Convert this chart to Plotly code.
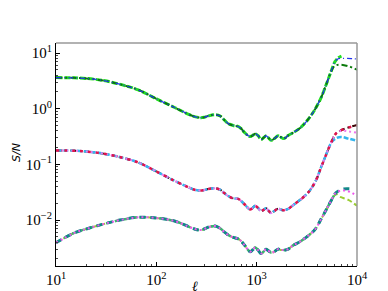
import plotly.graph_objects as go

# ---- data ----
ell = [10, 15, 20, 30, 45, 66, 104, 154, 207, 240, 273, 300, 328, 385, 432, 470, 520,
       582, 653, 700, 760, 860, 910, 964, 1030, 1107, 1170, 1242, 1310, 1393, 1500,
       1635, 1730, 1834, 1940, 2057, 2308, 2711, 3254, 3822, 4400, 5000, 5500]

sn_top = [3.62, 3.58, 3.5, 3.2, 2.7, 2.18, 1.45, 1.04, 0.80, 0.72, 0.69, 0.70, 0.74,
          0.78, 0.74, 0.64, 0.54, 0.50, 0.48, 0.44, 0.37, 0.316, 0.33, 0.355, 0.33,
          0.28, 0.30, 0.325, 0.30, 0.27, 0.29, 0.325, 0.31, 0.29, 0.30, 0.33, 0.37,
          0.45, 0.64, 0.98, 1.6, 2.9, 4.6]
sn_mid = [0.178, 0.176, 0.17, 0.155, 0.133, 0.108, 0.072, 0.05, 0.039, 0.035, 0.034,
          0.0345, 0.036, 0.037, 0.035, 0.031, 0.027, 0.0245, 0.024, 0.022, 0.019,
          0.0155, 0.0165, 0.018, 0.0165, 0.0145, 0.0152, 0.0163, 0.0148, 0.0134,
          0.0145, 0.016, 0.0155, 0.015, 0.0153, 0.0158, 0.0185, 0.023, 0.031, 0.048,
          0.09, 0.16, 0.24]
sn_low = [0.0039, 0.0058, 0.0069, 0.0085, 0.0101, 0.0112, 0.0108, 0.0095, 0.0077,
          0.0069, 0.0066, 0.0069, 0.0074, 0.0078, 0.0071, 0.0062, 0.0054, 0.0049,
          0.0046, 0.0042, 0.0035, 0.0027, 0.0029, 0.0032, 0.0029, 0.0025, 0.0027,
          0.0030, 0.0028, 0.0026, 0.0027, 0.0030, 0.0029, 0.0029, 0.0029, 0.0030,
          0.0035, 0.0041, 0.0052, 0.0068, 0.0105, 0.016, 0.022]

# tails (high-ell ends) per series
tail_ell_lime = [6030, 6500, 7000]
tail_sn_lime = [7.0, 8.2, 8.8]
tail_ell_blue = [6030, 6500, 7500, 9000, 10000]
tail_sn_blue = [7.0, 7.9, 8.0, 7.9, 7.8]
tail_ell_dgreen = [6000, 6800, 8200, 10000]
tail_sn_dgreen = [5.9, 6.2, 5.8, 5.0]

tail_ell_crimson = [6100, 6950, 8200, 10000]
tail_sn_crimson = [0.35, 0.41, 0.46, 0.50]
tail_ell_maroon = [6100, 6950, 8200, 10000]
tail_sn_maroon = [0.35, 0.41, 0.46, 0.51]
tail_ell_violet = [6100, 6950, 8200, 10000]
tail_sn_violet = [0.35, 0.40, 0.39, 0.37]
tail_ell_sky = [6100, 6950, 8200, 10000]
tail_sn_sky = [0.29, 0.31, 0.29, 0.265]

tail_ell_magenta = [6190, 7300, 8500, 10000]
tail_sn_magenta = [0.031, 0.034, 0.032, 0.027]
tail_ell_ygreen = [6190, 6800, 8200, 10000]
tail_sn_ygreen = [0.029, 0.026, 0.023, 0.018]
tail_ell_teal = [6190, 7300, 9000]
tail_sn_teal = [0.031, 0.036, 0.036]
tail_ell_sgreen = [6000]
tail_sn_sgreen = [0.029]
tail_ell_steel = [6000]
tail_sn_steel = [0.029]

fig = go.Figure()

def add(base, tx, ty, color, dash, width):
    fig.add_trace(go.Scatter(
        x=ell + tx, y=base + ty, mode="lines",
        line=dict(color=color, dash=dash, width=width, shape="spline", smoothing=1.0),
        showlegend=False, hoverinfo="skip"))

# top group
add(sn_top, tail_ell_lime, tail_sn_lime, "#22dd22", "6px,2px", 3)
add(sn_top, tail_ell_dgreen, tail_sn_dgreen, "#0a7a0a", "6px,3px,2px,3px", 2)
add(sn_top, tail_ell_blue, tail_sn_blue, "#2233ee", "5px,3px,1px,3px", 1.2)
# middle group
add(sn_mid, tail_ell_maroon, tail_sn_maroon, "#3a0505", "6px,3px,2px,3px", 2)
add(sn_mid, tail_ell_sky, tail_sn_sky, "#33b5ee", "5px,2px", 2.5)
add(sn_mid, tail_ell_violet, tail_sn_violet, "#ee77ee", "2px,3px", 2)
add(sn_mid, tail_ell_crimson, tail_sn_crimson, "#e0144a", "3px,5px", 2.5)
# bottom group
add(sn_low, tail_ell_ygreen, tail_sn_ygreen, "#9acd32", "5px,3px", 2)
add(sn_low, tail_ell_steel, tail_sn_steel, "#4477bb", "3px,6px", 1.8)
add(sn_low, tail_ell_sgreen, tail_sn_sgreen, "#3cb371", "5px,4px", 2.5)
add(sn_low, tail_ell_teal, tail_sn_teal, "#118888", "6px,5px", 3)
add(sn_low, tail_ell_magenta, tail_sn_magenta, "#ee55ee", "2px,3px", 2)

xticks = [10, 100, 1000, 10000]
xticktext = ["10<sup>1</sup>", "10<sup>2</sup>", "10<sup>3</sup>", "10<sup>4</sup>"]
yticks = [0.01, 0.1, 1, 10]
yticktext = ["10<sup>−2</sup>", "10<sup>−1</sup>", "10<sup>0</sup>", "10<sup>1</sup>"]

tickfont = dict(family="Liberation Serif, serif", size=15, color="black")

fig.update_xaxes(type="log", range=[1, 4], tickvals=xticks, ticktext=xticktext,
                 ticks="inside", ticklen=4, tickwidth=1, tickcolor="black",
                 showline=True, linecolor="black", linewidth=1.2, showgrid=False,
                 zeroline=False, tickfont=tickfont,
                 minor=dict(ticks="inside", ticklen=2, tickcolor="#444", showgrid=False,
                            dtick="D1"))
fig.update_yaxes(type="log", range=[-2.826, 1.18], tickvals=yticks, ticktext=yticktext,
                 ticks="inside", ticklen=4, tickwidth=1, tickcolor="black",
                 showline=True, linecolor="black", linewidth=1.2, showgrid=False,
                 zeroline=False, tickfont=tickfont,
                 minor=dict(ticks="inside", ticklen=2, tickcolor="#444", showgrid=False,
                            dtick="D1"))

# top and right frame lines (lighter)
fig.add_shape(type="line", xref="paper", yref="paper", x0=0, x1=1, y0=1, y1=1,
              line=dict(color="#999999", width=1.5))
fig.add_shape(type="line", xref="paper", yref="paper", x0=1, x1=1, y0=0, y1=1,
              line=dict(color="#999999", width=1.5))

W, H = 388, 291
ml, mr, mt, mb = 48, 39, 35, 33
pw, ph = W - ml - mr, H - mt - mb

fig.add_annotation(text="<i>S/N</i>", xref="paper", yref="paper",
                   x=(8 - ml) / pw, y=(H - mb - 145) / ph, textangle=-90,
                   xanchor="center", yanchor="middle",
                   showarrow=False, font=dict(family="DejaVu Sans", size=11, color="black"))
fig.add_annotation(text="<i>ℓ</i>", xref="paper", yref="paper",
                   x=(187 - ml) / pw, y=(H - mb - 278) / ph,
                   xanchor="center", yanchor="middle", borderpad=0,
                   showarrow=False, font=dict(family="Liberation Serif", size=14, color="black"))

fig.update_layout(width=W, height=H, margin=dict(l=ml, r=mr, t=mt, b=mb),
                  paper_bgcolor="white", plot_bgcolor="white")

fig.write_html("out.html")
